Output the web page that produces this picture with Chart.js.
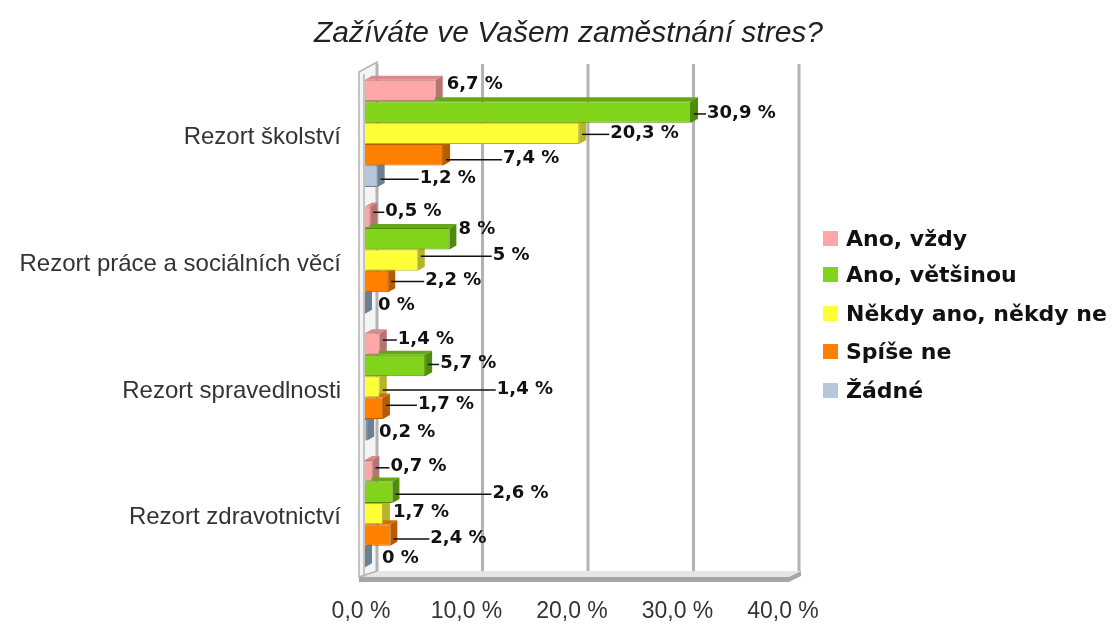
<!DOCTYPE html>
<html>
<head>
<meta charset="utf-8">
<script src="https://cdn.jsdelivr.net/npm/chart.js@4.4.1/dist/chart.umd.min.js"></script>
<style>
  body { margin: 0; background: #fff; }
  #wrap { width: 1117px; height: 626px; position: relative; }
</style>
</head>
<body>
<div id="wrap"><canvas id="myChart"></canvas></div>
<script>
'use strict';

let categories = ['Rezort školství', 'Rezort práce a sociálních věcí', 'Rezort spravedlnosti', 'Rezort zdravotnictví'];
let seriesNames = ['Ano, vždy', 'Ano, většinou', 'Někdy ano, někdy ne', 'Spíše ne', 'Žádné'];
let anoVzdy = [6.7, 0.5, 1.4, 0.7];
let anoVetsinou = [30.9, 8, 5.7, 2.6];
let nekdyAno = [20.3, 5, 1.4, 1.7];
let spiseNe = [7.4, 2.2, 1.7, 2.4];
let zadne = [1.2, 0, 0.2, 0];
let xTicks = [0, 10, 20, 30, 40];

// colours: front face, 3d side, 3d top
let fronts = ['#ffa6a6', '#81d41a', '#ffff38', '#ff8000', '#b4c7dc'];
let sides = ['#b77272', '#4f8c0c', '#b5b52a', '#b85c00', '#6d7f92'];
let tops = ['#d98a8a', '#64a912', '#d6d630', '#d56c00', '#8ea1b5'];

// where the value label sits, px from the bar end [dx, dy]
let labelOffsets = [
  [[11, -6], [15, -6], [18, -5], [18, -4]],
  [[16, 1], [9, -9], [15, -2], [100, 1]],
  [[31, 0], [75, -5], [117, 2], [10, -1]],
  [[60, 4], [37, -1], [35, -4], [40, 3]],
  [[42, 2], [13, 2], [12, 3], [17, 2]]
];

let depthX = 7;
let depthY = -4;
let wallX = 12;
let wallY = -6;

function fmt(v) {
  return String(v).replace('.', ',') + ' %';
}

let wallPlugin = {
  id: 'wall',
  beforeDatasetsDraw(chart) {
    let ctx = chart.ctx;
    let a = chart.chartArea;
    let xs = chart.scales.x;
    ctx.save();
    // floor
    ctx.fillStyle = '#e6e6e6';
    ctx.beginPath();
    ctx.moveTo(a.left - 6, a.bottom);
    ctx.lineTo(a.right + 2, a.bottom);
    ctx.lineTo(a.right + wallX + 2, a.bottom + wallY);
    ctx.lineTo(a.left - 6 + wallX, a.bottom + wallY);
    ctx.closePath();
    ctx.fill();
    ctx.fillStyle = '#a6a6a6';
    ctx.fillRect(a.left - 6, a.bottom, a.right - a.left + 8, 5);
    ctx.beginPath();
    ctx.moveTo(a.right + 2, a.bottom);
    ctx.lineTo(a.right + wallX + 2, a.bottom + wallY);
    ctx.lineTo(a.right + wallX + 2, a.bottom + wallY + 5);
    ctx.lineTo(a.right + 2, a.bottom + 5);
    ctx.closePath();
    ctx.fill();
    // left wall
    ctx.fillStyle = '#f4f4f4';
    ctx.strokeStyle = '#b3b3b3';
    ctx.lineWidth = 1.5;
    ctx.beginPath();
    ctx.moveTo(a.left - 6, a.top + 2);
    ctx.lineTo(a.left - 6 + wallX + 6, a.top + wallY - 2);
    ctx.lineTo(a.left - 6 + wallX + 6, a.bottom + wallY);
    ctx.lineTo(a.left - 6, a.bottom);
    ctx.closePath();
    ctx.fill();
    ctx.stroke();
    ctx.beginPath();
    ctx.moveTo(a.left - 1, a.top + 4);
    ctx.lineTo(a.left - 1, a.bottom);
    ctx.stroke();
    // back wall grid
    ctx.strokeStyle = '#b3b3b3';
    ctx.lineWidth = 3;
    xTicks.forEach(function (v) {
      let px = xs.getPixelForValue(v) + wallX;
      ctx.beginPath();
      ctx.moveTo(px, a.top + wallY);
      ctx.lineTo(px, a.bottom + wallY);
      ctx.stroke();
    });
    ctx.restore();
  }
};

let barSidesPlugin = {
  id: 'barSides',
  beforeDatasetsDraw(chart) {
    let ctx = chart.ctx;
    ctx.save();
    chart.data.datasets.forEach(function (ds, i) {
      let meta = chart.getDatasetMeta(i);
      meta.data.forEach(function (el) {
        let p = el.getProps(['x', 'y', 'base', 'height'], true);
        let top = p.y - p.height / 2;
        let bottom = p.y + p.height / 2;
        ctx.fillStyle = tops[i];
        ctx.beginPath();
        ctx.moveTo(p.base, top);
        ctx.lineTo(p.x, top);
        ctx.lineTo(p.x + depthX, top + depthY);
        ctx.lineTo(p.base + depthX, top + depthY);
        ctx.closePath();
        ctx.fill();
        ctx.fillStyle = sides[i];
        ctx.beginPath();
        ctx.moveTo(p.x, top);
        ctx.lineTo(p.x + depthX, top + depthY);
        ctx.lineTo(p.x + depthX, bottom + depthY);
        ctx.lineTo(p.x, bottom);
        ctx.closePath();
        ctx.fill();
      });
    });
    ctx.restore();
  }
};

let valueLabelPlugin = {
  id: 'valueLabels',
  afterDatasetsDraw(chart) {
    let ctx = chart.ctx;
    ctx.save();
    ctx.font = 'bold 18px "DejaVu Sans"';
    ctx.textBaseline = 'middle';
    ctx.textAlign = 'left';
    chart.data.datasets.forEach(function (ds, i) {
      let meta = chart.getDatasetMeta(i);
      meta.data.forEach(function (el, j) {
        let p = el.getProps(['x', 'y'], true);
        let off = labelOffsets[i][j];
        let tx = p.x + off[0];
        let ty = p.y + off[1];
        if (off[0] > 14 && ds.data[j] > 0) {
          ctx.strokeStyle = '#111';
          ctx.lineWidth = 1.5;
          ctx.beginPath();
          ctx.moveTo(p.x + 3, ty + 1);
          ctx.lineTo(tx - 1, ty + 1);
          ctx.stroke();
        }
        ctx.fillStyle = '#111';
        ctx.fillText(fmt(ds.data[j]), tx, ty);
      });
    });
    ctx.restore();
  }
};

let sideLegendPlugin = {
  id: 'sideLegend',
  afterDraw(chart) {
    let ctx = chart.ctx;
    let rowY = [239, 275, 314, 352, 391];
    ctx.save();
    ctx.font = 'bold 22px "DejaVu Sans"';
    ctx.textBaseline = 'middle';
    chart.data.datasets.forEach(function (ds, i) {
      ctx.fillStyle = ds.backgroundColor;
      ctx.fillRect(823, rowY[i] - 8, 15, 15);
      ctx.fillStyle = '#111';
      ctx.fillText(ds.label, 846, rowY[i] + 1);
    });
    ctx.restore();
  }
};

let allSeries = [anoVzdy, anoVetsinou, nekdyAno, spiseNe, zadne];
let datasets = [];
for (let i = 0; i < allSeries.length; i++) {
  datasets.push({
    label: seriesNames[i],
    data: allSeries[i],
    backgroundColor: fronts[i],
    borderColor: sides[i],
    borderWidth: 1,
    barPercentage: 1,
    categoryPercentage: 0.845
  });
}

let ctx = document.getElementById('myChart');
new Chart(ctx, {
  type: 'bar',
  data: {
    labels: categories,
    datasets: datasets
  },
  options: {
    indexAxis: 'y',
    responsive: true,
    maintainAspectRatio: false,
    animation: false,
    layout: { padding: { left: 20, right: 0, top: 0, bottom: 0 } },
    plugins: {
      legend: { display: false },
      tooltip: { enabled: false },
      title: {
        display: true,
        text: 'Zažíváte ve Vašem zaměstnání stres?',
        color: '#222',
        font: { family: '"Liberation Sans"', size: 30, style: 'italic', weight: 'normal', lineHeight: 1.2 },
        padding: { top: 16, bottom: 18 }
      }
    },
    scales: {
      x: {
        min: xTicks[0],
        max: xTicks[xTicks.length - 1],
        afterBuildTicks: function (scale) {
          scale.ticks = xTicks.map(function (v) { return { value: v }; });
        },
        afterFit: function (scale) { scale.height = 49; },
        grid: { display: false, drawTicks: false },
        border: { display: false },
        ticks: {
          padding: 21,
          labelOffset: -4,
          color: '#333',
          font: { family: '"Liberation Sans"', size: 23 },
          callback: function (v) { return v.toFixed(1).replace('.', ',') + ' %'; }
        }
      },
      y: {
        afterFit: function (scale) { scale.width = 345; },
        grid: { display: false, drawTicks: false },
        border: { display: false },
        ticks: {
          padding: 24,
          labelOffset: 4,
          color: '#333',
          font: { family: '"Liberation Sans"', size: 24 }
        }
      },
      // empty axis on the right keeps room for the legend
      legendRoom: {
        type: 'category',
        position: 'right',
        afterFit: function (scale) { scale.width = 330; },
        grid: { display: false, drawTicks: false },
        border: { display: false },
        ticks: { display: false }
      }
    }
  },
  plugins: [wallPlugin, barSidesPlugin, valueLabelPlugin, sideLegendPlugin]
});
</script>
</body>
</html>
